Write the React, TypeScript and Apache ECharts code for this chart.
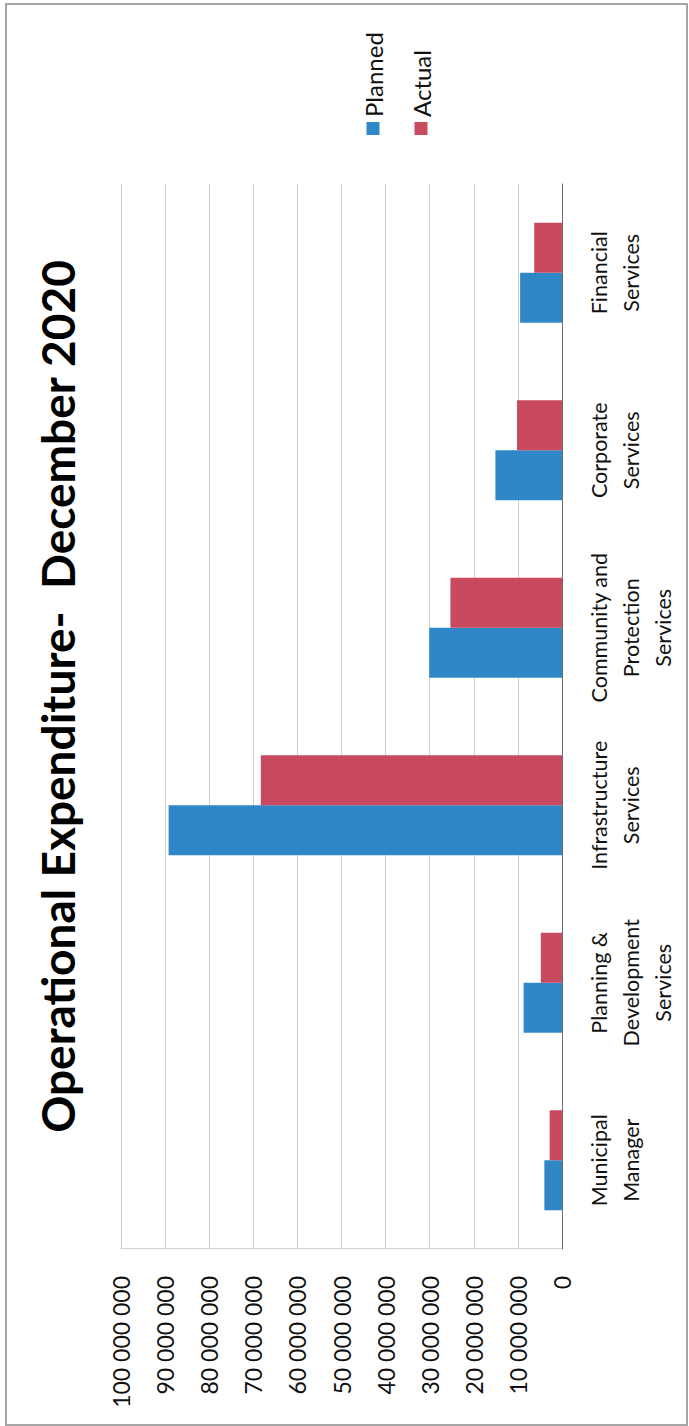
import React, { useEffect, useRef } from "react";
import * as echarts from "echarts";

const categories = [
  "Municipal\nManager",
  "Planning &\nDevelopment\nServices",
  "Infrastructure\nServices",
  "Community and\nProtection\nServices",
  "Corporate\nServices",
  "Financial\nServices",
];
const planned = [4000000, 8700000, 89200000, 30100000, 15100000, 9500000];
const actual = [2800000, 4800000, 68300000, 25300000, 10200000, 6300000];
const seriesNames = ["Planned", "Actual"];
const titleText = "Operational Expenditure-  December 2020";

const FONT = "Lato, 'Open Sans', sans-serif";

function fmt(v: number): string {
  return String(Math.round(v)).replace(/\B(?=(\d{3})+(?!\d))/g, " ");
}

export default function App() {
  const ref = useRef<HTMLDivElement>(null);
  useEffect(() => {
    if (!ref.current) return;
    const chart = echarts.init(ref.current, undefined, { renderer: "svg" });
    chart.setOption({
      animation: false,
      backgroundColor: "#ffffff",
      grid: { left: 177, right: 184, top: 121, bottom: 127, containLabel: false },
      legend: {
        orient: "vertical",
        left: 1286,
        top: 356,
        itemWidth: 13,
        itemHeight: 13,
        itemGap: 24,
        icon: "rect",
        data: seriesNames,
        textStyle: { fontFamily: FONT, fontSize: 24, color: "#111" },
      },
      xAxis: {
        type: "category",
        data: categories,
        axisLine: { show: true, lineStyle: { color: "#6e6e6e", width: 1 } },
        axisTick: { show: false },
        axisLabel: {
          interval: 0,
          margin: 21,
          fontFamily: FONT,
          fontSize: 21.5,
          lineHeight: 32,
          color: "#111",
          align: "center",
        },
      },
      yAxis: {
        type: "value",
        min: 0,
        max: 100000000,
        interval: 10000000,
        axisLine: { show: true, lineStyle: { color: "#d0d0d0", width: 1 } },
        axisTick: { show: false },
        splitLine: { show: true, lineStyle: { color: "#d0d0d0", width: 1 } },
        axisLabel: {
          margin: 27,
          fontFamily: FONT,
          fontSize: 23,
          color: "#111",
          formatter: (v: number) => fmt(v),
        },
      },
      series: [
        {
          name: seriesNames[0],
          type: "bar",
          data: planned,
          barWidth: 50,
          barGap: "0%",
          itemStyle: { color: "#2F87C8" },
        },
        {
          name: seriesNames[1],
          type: "bar",
          data: actual,
          barWidth: 50,
          barGap: "0%",
          itemStyle: { color: "#C94A5F" },
        },
      ],
      graphic: [
        {
          type: "rect",
          shape: { x: 1, y: 6, width: 1421, height: 681 },
          style: { fill: "none", stroke: "#a6a6a6", lineWidth: 2 },
          silent: true,
        },
        {
          type: "text",
          x: 729.5,
          y: 57,
          style: {
            text: titleText,
            fontFamily: FONT,
            fontSize: 46,
            fontWeight: "bold",
            fill: "#000",
            align: "center",
            verticalAlign: "middle",
            textAlign: "center",
            textVerticalAlign: "middle",
          },
        },
      ],
    });
    return () => chart.dispose();
  }, []);

  return (
    <div
      style={{
        position: "fixed",
        left: 0,
        top: 0,
        width: 689,
        height: 1426,
        overflow: "hidden",
        background: "#fff",
      }}
    >
      <div
        ref={ref}
        style={{
          position: "absolute",
          left: 0,
          top: 0,
          width: 1426,
          height: 689,
          transformOrigin: "0 0",
          transform: "translate(0px, 1426px) rotate(-90deg)",
        }}
      />
    </div>
  );
}
